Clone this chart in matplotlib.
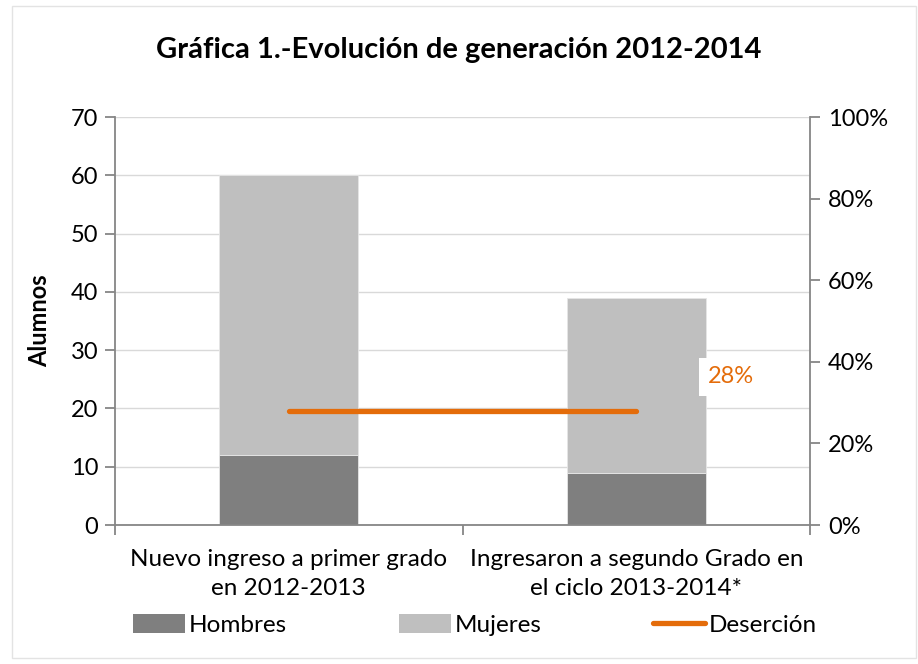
import matplotlib
matplotlib.use("Agg")
import matplotlib.pyplot as plt
from matplotlib.patches import Rectangle, Patch
from matplotlib.lines import Line2D
from matplotlib.ticker import PercentFormatter

categories = ["Nuevo ingreso a primer grado\nen 2012-2013",
              "Ingresaron a segundo Grado en\nel ciclo 2013-2014*"]
hombres = [12, 9]
mujeres = [48, 30]
desercion = [0.28, 0.28]
desercion_label = "28%"
left_ticks = [0, 10, 20, 30, 40, 50, 60, 70]
right_ticks = [0, 0.2, 0.4, 0.6, 0.8, 1.0]

plt.rcParams['font.family'] = ['Lato', 'DejaVu Sans']

C_H = '#7f7f7f'
C_M = '#bfbfbf'
C_D = '#e46c0a'
C_AX = '#868686'
C_GRID = '#d9d9d9'
FS = 17

fig = plt.figure(figsize=(9.18, 6.64), dpi=100)
fig.patches.append(Rectangle((12/918, 6/664), 904/918, 652/664, transform=fig.transFigure,
                             fill=False, edgecolor='#e3e3e3', linewidth=1.0))

ax = fig.add_axes([115/918, 1 - 525/664, 695/918, 408/664])
x = list(range(len(categories)))
ax.bar(x, hombres, width=0.4, color=C_H, edgecolor='#e6e6e6', linewidth=0.6, zorder=2)
ax.bar(x, mujeres, width=0.4, bottom=hombres, color=C_M, edgecolor='#e6e6e6', linewidth=0.6, zorder=2)
ax.set_xlim(-0.5, len(categories) - 0.5)
ax.set_ylim(0, 70)
ax.set_yticks(left_ticks)
ax.yaxis.grid(True, color=C_GRID, linewidth=1.0, zorder=0)
ax.set_axisbelow(True)
ax.set_xticks(x)
ax.set_xticklabels(categories, fontsize=FS + 0.5, linespacing=1.5)
ax.tick_params(axis='x', length=0, pad=17)
ax.set_xticks([-0.5, 0.5, 1.5], minor=True)
ax.tick_params(axis='x', which='minor', length=7, color=C_AX, width=1.3, direction='out')
ax.tick_params(axis='y', labelsize=FS, length=7, color=C_AX, width=1.3, pad=5)
for s in ['top', 'right']:
    ax.spines[s].set_visible(False)
for s in ['left', 'bottom']:
    ax.spines[s].set_color(C_AX)
    ax.spines[s].set_linewidth(1.3)
ax.set_ylabel("Alumnos", fontsize=FS, fontweight='bold', labelpad=14)

ax2 = ax.twinx()
ax2.set_ylim(0, 1)
ax2.set_yticks(right_ticks)
ax2.yaxis.set_major_formatter(PercentFormatter(1.0, decimals=0))
ax2.tick_params(axis='y', labelsize=FS, length=7, color=C_AX, width=1.3, pad=6)
for s in ['top', 'left', 'bottom']:
    ax2.spines[s].set_visible(False)
ax2.spines['right'].set_color(C_AX)
ax2.spines['right'].set_linewidth(1.3)
ax2.plot(x, desercion, color=C_D, linewidth=3.8, solid_capstyle='round', zorder=3)
ax2.text(1.205, 0.363, desercion_label, color=C_D, fontsize=FS, va='center', ha='left',
         bbox=dict(facecolor='white', edgecolor='none', pad=6))

fig.text(0.5, 1 - 50/664, "Gráfica 1.-Evolución de generación 2012-2014", ha='center', va='center',
         fontsize=21, fontweight='bold')

handles = [Patch(facecolor=C_H, edgecolor='none'),
           Patch(facecolor=C_M, edgecolor='none'),
           Line2D([0], [0], color=C_D, linewidth=3.8, solid_capstyle='round')]
fig.legend(handles, ["Hombres", "Mujeres", "Deserción"], loc='center', ncol=3,
           bbox_to_anchor=(475/918, 1 - 625/664), frameon=False, fontsize=FS + 0.5,
           handlelength=2.15, handletextpad=0.15, columnspacing=4.6, handleheight=0.8)

fig.savefig("out.png", dpi=100)
